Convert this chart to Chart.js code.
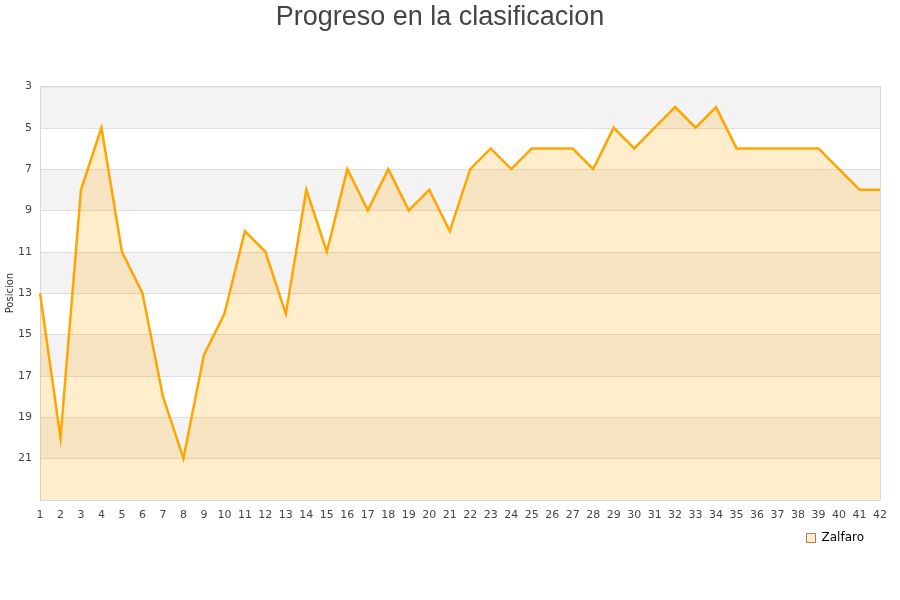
<!DOCTYPE html>
<html>
<head>
<meta charset="utf-8">
<script src="https://cdn.jsdelivr.net/npm/chart.js@4/dist/chart.umd.min.js"></script>
<style>
  html, body { margin: 0; padding: 0; background: #fff; }
  #wrap { width: 900px; height: 600px; }
</style>
</head>
<body>
<div id="wrap"><canvas id="chart"></canvas></div>
<script>
const jornadas = Array.from({ length: 42 }, (_, i) => String(i + 1));
const posiciones = [13, 20, 8, 5, 11, 13, 18, 21, 16, 14, 10, 11, 14, 8, 11, 7, 9, 7, 9, 8, 10,
  7, 6, 7, 6, 6, 6, 7, 5, 6, 5, 4, 5, 4, 6, 6, 6, 6, 6, 7, 8, 8];
const equipo = 'Zalfaro';
const yMin = 3;
const yMax = 23;
// alternate background stripes (from, to)
const bandas = [[3, 5], [7, 9], [11, 13], [15, 17], [19, 21]];

const bandPlugin = {
  id: 'bands',
  afterLayout(chart) {
    // nudge the legend up a little, closer to the axis labels
    if (chart.legend) {
      chart.legend.top -= 7;
      chart.legend.bottom -= 7;
    }
  },
  beforeDatasetsDraw(chart) {
    const { ctx, chartArea, scales } = chart;
    ctx.save();
    ctx.fillStyle = '#f3f3f3';
    bandas.forEach(([a, b]) => {
      const y1 = scales.y.getPixelForValue(a);
      const y2 = scales.y.getPixelForValue(b);
      ctx.fillRect(chartArea.left, y1, chartArea.right - chartArea.left, y2 - y1);
    });
    // horizontal grid lines over the stripes
    ctx.strokeStyle = '#dddddd';
    ctx.lineWidth = 1;
    scales.y.ticks.forEach(t => {
      const y = Math.round(scales.y.getPixelForValue(t.value)) + 0.5;
      ctx.beginPath();
      ctx.moveTo(chartArea.left, y);
      ctx.lineTo(chartArea.right, y);
      ctx.stroke();
    });
    ctx.strokeStyle = '#d8d8d8';
    ctx.strokeRect(chartArea.left + 0.5, chartArea.top + 0.5,
      chartArea.right - chartArea.left, chartArea.bottom - chartArea.top);
    ctx.restore();
  }
};

new Chart(document.getElementById('chart'), {
  type: 'line',
  data: {
    labels: jornadas,
    datasets: [{
      label: equipo,
      data: posiciones,
      borderColor: '#ffa500',
      backgroundColor: 'rgba(255, 165, 0, 0.2)',
      borderWidth: 2.5,
      pointRadius: 0,
      tension: 0,
      fill: { value: yMax },
    }],
  },
  options: {
    responsive: true,
    maintainAspectRatio: false,
    animation: false,
    layout: { padding: { left: 0, right: 20, top: 0, bottom: 39 } },
    plugins: {
      title: {
        display: true,
        text: 'Progreso en la clasificacion',
        color: '#444',
        font: { family: 'Liberation Sans', size: 27, weight: 'normal' },
        padding: { top: 1, bottom: 53 },
      },
      legend: {
        position: 'bottom',
        align: 'end',
        labels: {
          color: '#111',
          boxWidth: 9,
          boxHeight: 9,
          padding: 16,
          font: { family: 'DejaVu Sans', size: 12 },
          generateLabels: () => [{
            text: equipo,
            fillStyle: '#ffedcc',
            strokeStyle: '#a08050',
            lineWidth: 1,
          }],
        },
      },
      tooltip: { enabled: false },
    },
    scales: {
      x: {
        offset: false,
        grid: { display: false },
        border: { display: false },
        ticks: {
          color: '#444',
          padding: 1,
          maxRotation: 0,
          autoSkip: false,
          font: { family: 'DejaVu Sans', size: 11 },
        },
      },
      y: {
        reverse: true,
        min: yMin,
        max: yMax,
        grid: { display: false, drawTicks: false },
        border: { display: false },
        afterFit: scale => { scale.width = 40; },
        title: {
          display: true,
          text: 'Posicion',
          color: '#333',
          font: { family: 'DejaVu Sans', size: 10 },
          padding: 4,
        },
        ticks: {
          stepSize: 2,
          color: '#444',
          padding: 8,
          font: { family: 'DejaVu Sans', size: 11 },
          callback: v => (v === yMax ? '' : v),
        },
      },
    },
  },
  plugins: [bandPlugin],
});
</script>
</body>
</html>
